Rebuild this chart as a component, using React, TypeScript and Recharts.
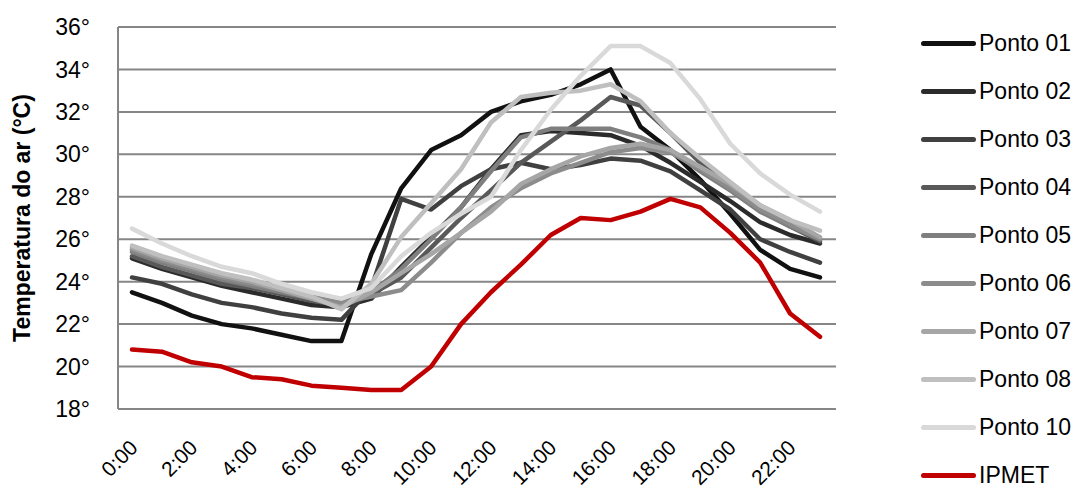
import { LineChart, Line, XAxis, YAxis, CartesianGrid } from 'recharts';

// Hours of the day
const hours = [
  '0:00', '1:00', '2:00', '3:00', '4:00', '5:00', '6:00', '7:00',
  '8:00', '9:00', '10:00', '11:00', '12:00', '13:00', '14:00', '15:00',
  '16:00', '17:00', '18:00', '19:00', '20:00', '21:00', '22:00', '23:00',
];

// Air temperature per point (°C)
const ponto01 = [23.5, 23.0, 22.4, 22.0, 21.8, 21.5, 21.2, 21.2, 25.3, 28.4, 30.2, 30.9, 32.0, 32.5, 32.8, 33.3, 34.0, 31.3, 30.2, 28.8, 27.2, 25.5, 24.6, 24.2];
const ponto02 = [25.1, 24.6, 24.2, 23.8, 23.5, 23.2, 22.9, 22.8, 23.2, 24.7, 26.1, 27.5, 29.3, 30.9, 31.1, 31.0, 30.9, 30.4, 29.6, 28.7, 27.8, 26.8, 26.2, 25.8];
const ponto03 = [24.2, 23.9, 23.4, 23.0, 22.8, 22.5, 22.3, 22.2, 23.7, 27.9, 27.4, 28.5, 29.3, 29.6, 29.3, 29.5, 29.8, 29.7, 29.2, 28.3, 27.4, 26.0, 25.4, 24.9];
const ponto04 = [25.2, 24.7, 24.3, 23.9, 23.7, 23.4, 23.1, 22.9, 23.4, 24.2, 25.6, 27.0, 28.3, 29.6, 30.6, 31.6, 32.7, 32.3, 31.0, 29.6, 28.5, 27.4, 26.6, 25.9];
const ponto05 = [25.4, 24.9, 24.5, 24.1, 23.8, 23.5, 23.2, 23.0, 23.5, 24.6, 26.0, 27.5, 29.2, 30.8, 31.2, 31.2, 31.2, 30.8, 30.2, 29.2, 28.3, 27.3, 26.6, 26.0];
const ponto06 = [25.5, 25.0, 24.6, 24.2, 23.9, 23.6, 23.3, 23.0, 23.3, 23.6, 24.9, 26.3, 27.5, 28.4, 29.1, 29.6, 30.1, 30.3, 30.1, 29.3, 28.4, 27.4, 26.7, 26.0];
const ponto07 = [25.6, 25.1, 24.7, 24.3, 24.0, 23.6, 23.2, 22.8, 23.5, 24.4, 25.3, 26.3, 27.3, 28.6, 29.3, 29.9, 30.3, 30.5, 30.2, 29.4, 28.6, 27.6, 26.9, 26.1];
const ponto08 = [25.7, 25.2, 24.8, 24.4, 24.1, 23.7, 23.3, 22.7, 23.9, 26.1, 27.7, 29.3, 31.5, 32.7, 32.9, 33.0, 33.3, 32.5, 31.0, 29.8, 28.7, 27.6, 26.9, 26.4];
const ponto10 = [26.5, 25.8, 25.2, 24.7, 24.4, 23.9, 23.5, 23.2, 23.7, 25.2, 26.3, 27.2, 28.0, 30.2, 32.1, 33.7, 35.1, 35.1, 34.3, 32.6, 30.5, 29.1, 28.1, 27.3];
const ipmet = [20.8, 20.7, 20.2, 20.0, 19.5, 19.4, 19.1, 19.0, 18.9, 18.9, 20.0, 22.0, 23.5, 24.8, 26.2, 27.0, 26.9, 27.3, 27.9, 27.5, 26.3, 24.9, 22.5, 21.4];

const yTicks = [18, 20, 22, 24, 26, 28, 30, 32, 34, 36];

const series = [
  { key: 'p01', name: 'Ponto 01', color: '#111111', values: ponto01 },
  { key: 'p02', name: 'Ponto 02', color: '#2b2b2b', values: ponto02 },
  { key: 'p03', name: 'Ponto 03', color: '#404040', values: ponto03 },
  { key: 'p04', name: 'Ponto 04', color: '#595959', values: ponto04 },
  { key: 'p05', name: 'Ponto 05', color: '#7f7f7f', values: ponto05 },
  { key: 'p06', name: 'Ponto 06', color: '#8c8c8c', values: ponto06 },
  { key: 'p07', name: 'Ponto 07', color: '#a6a6a6', values: ponto07 },
  { key: 'p08', name: 'Ponto 08', color: '#bfbfbf', values: ponto08 },
  { key: 'p10', name: 'Ponto 10', color: '#d9d9d9', values: ponto10 },
  { key: 'ipmet', name: 'IPMET', color: '#c00000', values: ipmet },
];

const data = hours.map((h, i) => {
  const row: Record<string, string | number> = { hour: h };
  series.forEach(s => { row[s.key] = s.values[i]; });
  return row;
});

const FONT = '"Liberation Sans", Arial, sans-serif';

function HourTick({ x, y, payload }: any) {
  return (
    <g transform={`translate(${x + 7},${y + 40})`}>
      <text x={0} y={0} textAnchor="end" transform="rotate(-45)" fontSize={21} fill="#000" fontFamily={FONT}>
        {payload.value}
      </text>
    </g>
  );
}

export default function App() {
  return (
    <div style={{ position: 'absolute', left: 0, top: 0, width: 1080, height: 490, background: '#fff', fontFamily: FONT }}>
      <LineChart width={1080} height={490} data={data} margin={{ top: 27, right: 244, bottom: 0, left: 0 }}>
        <CartesianGrid vertical={false} stroke="#868686" strokeWidth={2} />
        <XAxis
          dataKey="hour"
          interval={1}
          height={81}
          padding={{ left: 14, right: 16 }}
          tickLine={false}
          tickSize={0}
          tickMargin={0}
          axisLine={{ stroke: '#868686', strokeWidth: 2 }}
          tick={<HourTick />}
        />
        <YAxis
          domain={[18, 36]}
          ticks={yTicks}
          width={118}
          tickLine={false}
          tickSize={0}
          tickMargin={28}
          axisLine={{ stroke: '#868686', strokeWidth: 2 }}
          tickFormatter={(v: number) => `${v}°`}
          tick={{ fill: '#000', fontSize: 23, fontFamily: FONT }}
          label={{
            content: () => (
              <text x={22} y={218} transform="rotate(-90 22 218)" textAnchor="middle" dominantBaseline="central"
                fontSize={23} fontWeight="bold" fill="#000" fontFamily={FONT}>
                Temperatura do ar (°C)
              </text>
            ),
          }}
        />
        {series.map(s => (
          <Line
            key={s.key}
            dataKey={s.key}
            name={s.name}
            stroke={s.color}
            strokeWidth={4.5}
            strokeLinejoin="round"
            strokeLinecap="round"
            dot={false}
            type="linear"
            isAnimationActive={false}
          />
        ))}
      </LineChart>

      {/* legend on the right */}
      <div style={{ position: 'absolute', left: 921, top: 19, width: 160 }}>
        {series.map(s => (
          <div key={s.key} style={{ height: 48, display: 'flex', alignItems: 'center' }}>
            <div style={{ width: 55, height: 5, borderRadius: 3, background: s.color, marginRight: 3 }} />
            <span style={{ fontSize: 23, color: '#000', whiteSpace: 'nowrap' }}>{s.name}</span>
          </div>
        ))}
      </div>
    </div>
  );
}
